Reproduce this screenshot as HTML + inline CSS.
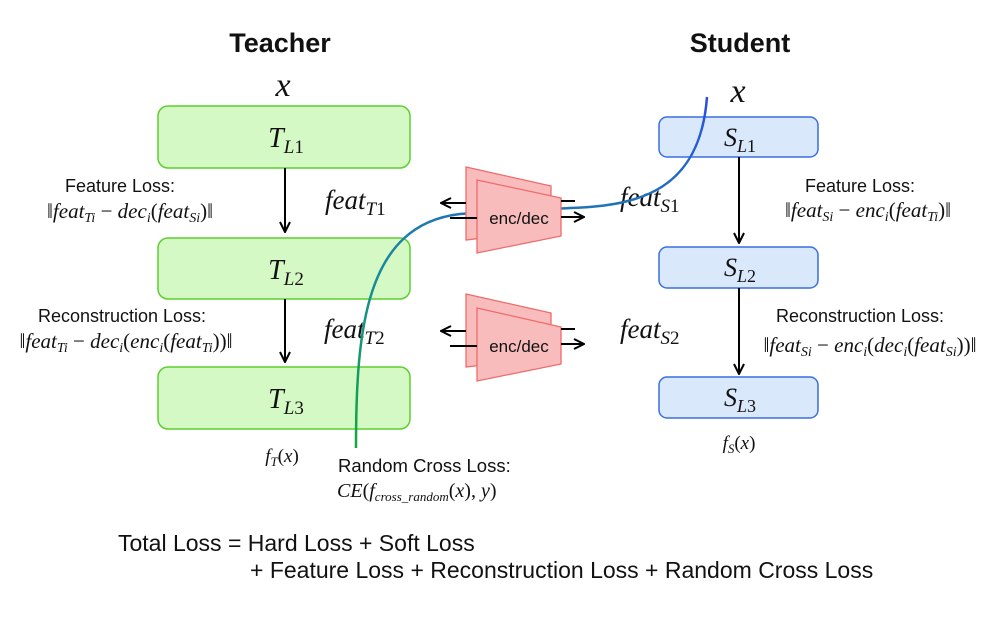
<!DOCTYPE html>
<html><head><meta charset="utf-8"><style>
html,body{margin:0;padding:0;background:#fff;}
svg{display:block}
.s{font-family:"Liberation Sans",sans-serif;fill:#111}
.m{font-family:"Liberation Serif",serif;font-style:italic;fill:#111}
.u{font-family:"Liberation Serif",serif;font-style:normal}
</style></head><body>
<svg width="997" height="632" viewBox="0 0 997 632" xmlns="http://www.w3.org/2000/svg">
<defs>
<marker id="a" viewBox="0 0 12 12" refX="11" refY="6" markerWidth="12" markerHeight="12" markerUnits="userSpaceOnUse" orient="auto">
<path d="M1,1 L11,6 L1,11" fill="none" stroke="#000" stroke-width="2"/></marker>
<linearGradient id="g" x1="0" y1="1" x2="0" y2="0" gradientUnits="objectBoundingBox">
<stop offset="0" stop-color="#10a93a"/><stop offset="0.5" stop-color="#1a8a9a"/><stop offset="1" stop-color="#2a4de6"/></linearGradient>
</defs>
<text x="280" y="52" class="s" font-size="27" font-weight="bold" text-anchor="middle">Teacher</text>
<text x="740" y="52" class="s" font-size="27" font-weight="bold" text-anchor="middle">Student</text>
<text x="283" y="96" class="m" font-size="34" text-anchor="middle">x</text>
<text x="738" y="102" class="m" font-size="34" text-anchor="middle">x</text>

<g fill="#d5f9c4" stroke="#5ccf2f" stroke-width="1.5">
<rect x="158" y="106" width="252" height="62" rx="10"/>
<rect x="158" y="238" width="252" height="61" rx="10"/>
<rect x="158" y="367" width="252" height="62" rx="10"/>
</g>
<g fill="#dae8fc" stroke="#3a6fe0" stroke-width="1.5">
<rect x="659" y="117" width="159" height="40" rx="8"/>
<rect x="659" y="247" width="159" height="41" rx="8"/>
<rect x="659" y="377" width="159" height="41" rx="8"/>
</g>
<g class="m" font-size="28" text-anchor="middle">
<text x="286" y="147">T<tspan font-size="19" dy="6">L</tspan><tspan class="u" font-size="19">1</tspan></text>
<text x="286" y="279">T<tspan font-size="19" dy="6">L</tspan><tspan class="u" font-size="19">2</tspan></text>
<text x="286" y="408">T<tspan font-size="19" dy="6">L</tspan><tspan class="u" font-size="19">3</tspan></text>
</g>
<g class="m" font-size="26" text-anchor="middle">
<text x="740" y="146">S<tspan font-size="18" dy="6">L</tspan><tspan class="u" font-size="18">1</tspan></text>
<text x="740" y="276">S<tspan font-size="18" dy="6">L</tspan><tspan class="u" font-size="18">2</tspan></text>
<text x="740" y="406">S<tspan font-size="18" dy="6">L</tspan><tspan class="u" font-size="18">3</tspan></text>
</g>
<g stroke="#000" stroke-width="2" fill="none">
<line x1="285" y1="168" x2="285" y2="232" marker-end="url(#a)"/>
<line x1="285" y1="299" x2="285" y2="362" marker-end="url(#a)"/>
<line x1="739" y1="157" x2="739" y2="243" marker-end="url(#a)"/>
<line x1="739" y1="288" x2="739" y2="374" marker-end="url(#a)"/>
</g>

<g class="s" font-size="18" text-anchor="middle">
<text x="120" y="192">Feature Loss:</text>
<text x="122" y="322">Reconstruction Loss:</text>
<text x="860" y="192">Feature Loss:</text>
<text x="860" y="322">Reconstruction Loss:</text>
</g>
<g class="m" font-size="21" text-anchor="middle">
<text x="130" y="218">‖feat<tspan font-size="14" dy="4">Ti</tspan><tspan dy="-4" class="u"> − </tspan>dec<tspan font-size="14" dy="4">i</tspan><tspan dy="-4" class="u">(</tspan>feat<tspan font-size="14" dy="4">Si</tspan><tspan dy="-4" class="u">)‖</tspan></text>
<text x="126" y="348">‖feat<tspan font-size="14" dy="4">Ti</tspan><tspan dy="-4" class="u"> − </tspan>dec<tspan font-size="14" dy="4">i</tspan><tspan dy="-4" class="u">(</tspan>enc<tspan font-size="14" dy="4">i</tspan><tspan dy="-4" class="u">(</tspan>feat<tspan font-size="14" dy="4">Ti</tspan><tspan dy="-4" class="u">))‖</tspan></text>
<text x="868" y="217">‖feat<tspan font-size="14" dy="4">Si</tspan><tspan dy="-4" class="u"> − </tspan>enc<tspan font-size="14" dy="4">i</tspan><tspan dy="-4" class="u">(</tspan>feat<tspan font-size="14" dy="4">Ti</tspan><tspan dy="-4" class="u">)‖</tspan></text>
<text x="870" y="352">‖feat<tspan font-size="14" dy="4">Si</tspan><tspan dy="-4" class="u"> − </tspan>enc<tspan font-size="14" dy="4">i</tspan><tspan dy="-4" class="u">(</tspan>dec<tspan font-size="14" dy="4">i</tspan><tspan dy="-4" class="u">(</tspan>feat<tspan font-size="14" dy="4">Si</tspan><tspan dy="-4" class="u">))‖</tspan></text>
</g>
<g class="m" font-size="19" text-anchor="middle">
<text x="282" y="462">f<tspan font-size="13" dy="4">T</tspan><tspan dy="-4" class="u">(</tspan>x<tspan class="u">)</tspan></text>
<text x="739" y="449">f<tspan font-size="13" dy="4">S</tspan><tspan dy="-4" class="u">(</tspan>x<tspan class="u">)</tspan></text>
</g>
<g class="m" font-size="27">
<text x="325" y="209">feat<tspan font-size="19" dy="6">T</tspan><tspan class="u" font-size="19">1</tspan></text>
<text x="324" y="338">feat<tspan font-size="19" dy="6">T</tspan><tspan class="u" font-size="19">2</tspan></text>
<text x="620" y="206">feat<tspan font-size="19" dy="6">S</tspan><tspan class="u" font-size="19">1</tspan></text>
<text x="620" y="338">feat<tspan font-size="19" dy="6">S</tspan><tspan class="u" font-size="19">2</tspan></text>
</g>

<path d="M356,448 C356,330 365,225 460,214 C500,210 540,210 570,208 C640,206 700,190 707,97" fill="none" stroke="url(#g)" stroke-width="2.5"/>

<g fill="#f8bcbc" stroke="#f06a6a" stroke-width="1.3">
<polygon points="466,167 551,186 551,230 466,240"/>
<polygon points="477,180 561,198 561,236 477,253"/>
<polygon points="466,294 551,313 551,357 466,367"/>
<polygon points="477,308 561,327 561,364 477,381"/>
</g>
<g class="s" font-size="17" text-anchor="middle">
<text x="519" y="224">enc/dec</text>
<text x="519" y="352">enc/dec</text>
</g>
<g stroke="#000" stroke-width="2" fill="none">
<line x1="466" y1="203" x2="441" y2="203" marker-end="url(#a)"/>
<line x1="450" y1="218" x2="477" y2="218"/>
<line x1="561" y1="201" x2="575" y2="201"/>
<line x1="561" y1="217" x2="584" y2="217" marker-end="url(#a)"/>
<line x1="466" y1="331" x2="441" y2="331" marker-end="url(#a)"/>
<line x1="450" y1="346" x2="477" y2="346"/>
<line x1="561" y1="329" x2="575" y2="329"/>
<line x1="561" y1="344" x2="584" y2="344" marker-end="url(#a)"/>
</g>

<text x="338" y="472" class="s" font-size="18.5">Random Cross Loss:</text>
<text x="337" y="497" class="m" font-size="20">CE<tspan class="u">(</tspan>f<tspan font-size="13" dy="4">cross_random</tspan><tspan dy="-4" class="u">(</tspan>x<tspan class="u">), </tspan>y<tspan class="u">)</tspan></text>

<text x="118" y="551" class="s" font-size="23">Total Loss = Hard Loss + Soft Loss</text>
<text x="250" y="578" class="s" font-size="23">+ Feature Loss + Reconstruction Loss + Random Cross Loss</text>
</svg>
</body></html>
